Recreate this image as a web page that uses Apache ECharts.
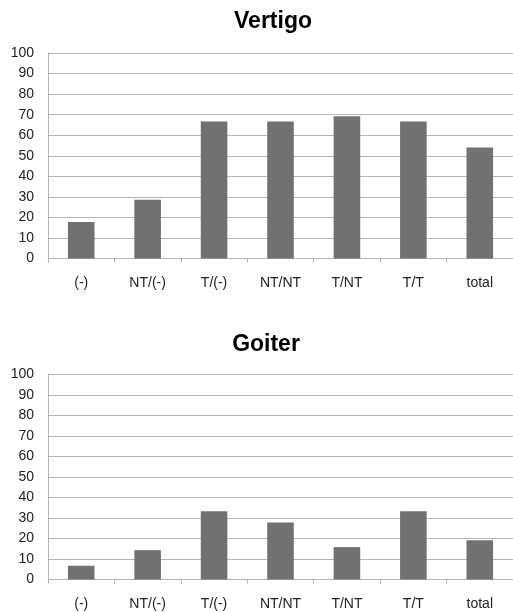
<!DOCTYPE html>
<html>
<head>
<meta charset="utf-8">
<script src="https://cdn.jsdelivr.net/npm/echarts@6/dist/echarts.min.js"></script>
<style>
html,body{margin:0;padding:0;background:#fff;}
#chart{width:513px;height:612px;}
</style>
</head>
<body>
<div id="chart"></div>
<script>
var categories = ['(-)', 'NT/(-)', 'T/(-)', 'NT/NT', 'T/NT', 'T/T', 'total'];
var vertigoValues = [17.8, 28.6, 66.7, 66.7, 69.2, 66.7, 54.0];
var goiterValues = [6.7, 14.3, 33.3, 27.8, 15.8, 33.3, 19.2];
var titles = ['Vertigo', 'Goiter'];
var yMin = 0, yMax = 100, yStep = 10;

var FONT = '"Liberation Sans", Arial, sans-serif';
var gridColor = '#b4b4b4';
var barColor = '#717171';

function xAxis(i) {
  return {
    type: 'category', gridIndex: i, data: categories,
    axisLine: { show: true, lineStyle: { color: gridColor, width: 1 } },
    axisTick: { show: true, length: 4, lineStyle: { color: gridColor } },
    axisLabel: { color: '#222', fontFamily: FONT, fontSize: 14, margin: 18 }
  };
}
function yAxis(i) {
  return {
    type: 'value', gridIndex: i, min: yMin, max: yMax, interval: yStep,
    axisLine: { show: true, lineStyle: { color: gridColor, width: 1 } },
    axisTick: { show: false },
    splitLine: { show: true, lineStyle: { color: gridColor, width: 1 } },
    axisLabel: { color: '#222', fontFamily: FONT, fontSize: 14, margin: 14 }
  };
}
var chart = echarts.init(document.getElementById('chart'));
chart.setOption({
  animation: false,
  title: [
    { text: titles[0], left: 273, top: 10, textAlign: 'center', padding: 0,
      textStyle: { fontFamily: FONT, fontSize: 23, fontWeight: 'bold', color: '#000' } },
    { text: titles[1], left: 266, top: 333, textAlign: 'center', padding: 0,
      textStyle: { fontFamily: FONT, fontSize: 23, fontWeight: 'bold', color: '#000' } }
  ],
  grid: [
    { left: 48, right: 0, top: 53, height: 205.5, containLabel: false },
    { left: 48, right: 0, top: 374.5, height: 205, containLabel: false }
  ],
  xAxis: [xAxis(0), xAxis(1)],
  yAxis: [yAxis(0), yAxis(1)],
  series: [
    { type: 'bar', xAxisIndex: 0, yAxisIndex: 0, data: vertigoValues, barWidth: '40%',
      itemStyle: { color: barColor } },
    { type: 'bar', xAxisIndex: 1, yAxisIndex: 1, data: goiterValues, barWidth: '40%',
      itemStyle: { color: barColor } }
  ]
});
</script>
</body>
</html>
